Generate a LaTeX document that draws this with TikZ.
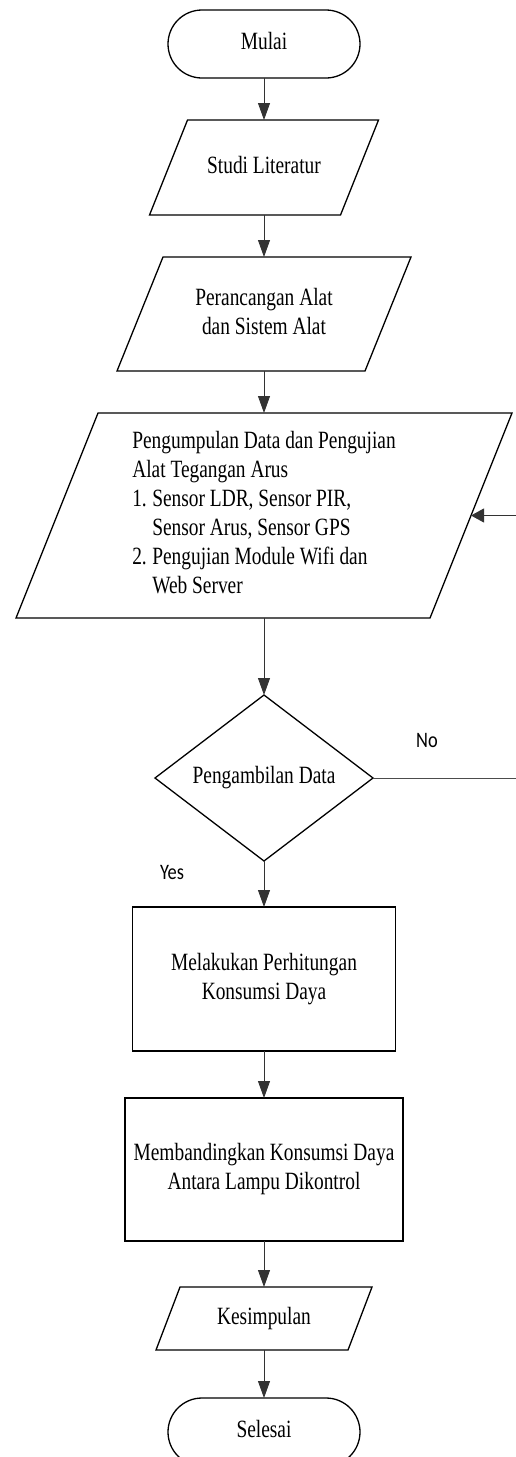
\documentclass[tikz,border=0pt]{standalone}
\usepackage{fontspec}
\setmainfont{Liberation Serif}
\newfontfamily\labelsans{Carlito}
\usepackage{graphicx}
\usetikzlibrary{arrows.meta}

% tall, narrow lettering used throughout the chart
\newcommand\tallc[1]{\scalebox{1}[1.28]{\begin{tabular}{@{}c@{}}#1\end{tabular}}}
\newcommand\talll[1]{\scalebox{1}[1.28]{\begin{tabular}{@{}l@{}}#1\end{tabular}}}
\newcommand\itemno[1]{\makebox[20pt][l]{#1}}
% outline of an input/output parallelogram around a frame node
\newcommand\slantframe[2]{%
  \draw[shapeline] ([xshift=#2]#1.north west) -- ([xshift=#2]#1.north east)
    -- ([xshift=-#2]#1.south east) -- ([xshift=-#2]#1.south west) -- cycle;}

\begin{document}
\begin{tikzpicture}[x=1pt, y=-1pt,
  font={\fontsize{19.4}{22.7}\selectfont},
  shapeline/.style={line width=1.3pt, line join=miter},
  frame/.style={draw=none, rectangle, inner sep=0pt, outer sep=0pt},
  terminal/.style={draw, rectangle, rounded corners=34pt, line width=1.3pt,
    minimum width=192pt, minimum height=68pt, inner sep=0pt, outer sep=0pt},
  process/.style={draw, rectangle, line width=1.3pt, inner sep=0pt, outer sep=0pt},
  flow/.style={line width=0.9pt, draw=black!80, -{Triangle[width=12pt,length=17pt]}},
  flowh/.style={line width=0.9pt, draw=black!80, -{Triangle[width=14pt,length=13pt]}},
  flowline/.style={line width=0.9pt, draw=black!70},
  answer/.style={inner sep=0pt, font={\labelsans\fontsize{18.4}{20}\selectfont}}
]
\fill[white] (0,0) rectangle (515,1457);
\useasboundingbox (0,0) rectangle (515,1457);

% start
\node[terminal] (mulai) at (264,44) {\tallc{Mulai}};

% literature study
\node[frame, minimum width=191pt, minimum height=95pt] (studi) at (264,167.5)
  {\tallc{Studi Literatur}};
\slantframe{studi}{19pt}

% design of the device
\node[frame, minimum width=248pt, minimum height=114pt] (rancang) at (264,314)
  {\tallc{Perancangan Alat\\dan Sistem Alat}};
\slantframe{rancang}{23pt}

% data collection and testing
\node[frame, minimum width=414pt, minimum height=205pt] (uji) at (264,515.5)
  {\talll{Pengumpulan Data dan Pengujian\\
          Alat Tegangan Arus\\
          \itemno{1.}Sensor LDR, Sensor PIR,\\
          \itemno{}Sensor Arus, Sensor GPS\\
          \itemno{2.}Pengujian Module Wifi dan\\
          \itemno{}Web Server}};
\slantframe{uji}{41pt}

% decision
\node[frame, minimum width=218pt, minimum height=166pt] (ambil) at (264,778)
  {\tallc{Pengambilan Data}};
\draw[shapeline] (ambil.north) -- (ambil.east) -- (ambil.south) -- (ambil.west) -- cycle;

% power consumption calculation
\node[process, minimum width=263pt, minimum height=144pt] (hitung) at (264,979)
  {\tallc{Melakukan Perhitungan\\Konsumsi Daya}};

% comparison
\node[process, minimum width=278pt, minimum height=143pt] (banding) at (264,1169.5)
  {\tallc{Membandingkan Konsumsi Daya\\Antara Lampu Dikontrol}};

% conclusion
\node[frame, minimum width=192pt, minimum height=63pt] (simpul) at (264,1318.5)
  {\tallc{Kesimpulan}};
\slantframe{simpul}{12pt}

% end
\node[terminal] (selesai) at (264,1432) {\tallc{Selesai}};

% answers of the decision
\node[answer] (no) at (427,740) {\scalebox{1}[1.2]{No}};
\node[answer] (yes) at (172,872) {\scalebox{1}[1.2]{Yes}};

% main flow
\draw[flow] (mulai.south) -- (studi.north);
\draw[flow] (studi.south) -- (rancang.north);
\draw[flow] (rancang.south) -- (uji.north);
\draw[flow] (uji.south) -- (ambil.north);
\draw[flow] (ambil.south) -- (hitung.north);
\draw[flow] (hitung.south) -- (banding.north);
\draw[flow] (banding.south) -- (simpul.north);
\draw[flow] (simpul.south) -- (selesai.north);

% loop back when no data is taken
\coordinate (loopdown) at (517,778);
\coordinate (loopup) at (517,515.5);
\draw[flowline] (ambil.east) -- (loopdown) -- (loopup);
\draw[flowh] (loopup) -- (uji.east);
\end{tikzpicture}
\end{document}
